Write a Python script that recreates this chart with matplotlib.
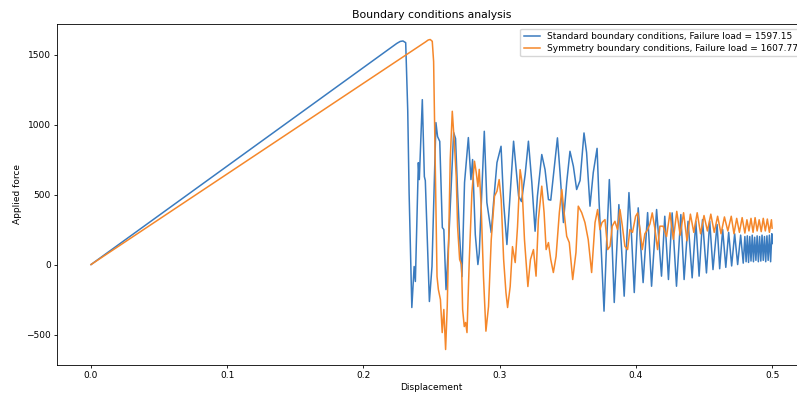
import matplotlib
matplotlib.use("Agg")
import matplotlib.pyplot as plt

# displacement / applied force
std_disp = [0.000, 0.2245, 0.2270, 0.229, 0.2310, 0.2325, 0.2335,
            0.2355, 0.2372, 0.2381, 0.2403, 0.2410, 0.2432, 0.2447, 0.2454, 0.2484, 0.2503,
            0.2532, 0.2544, 0.2560, 0.2579, 0.2590, 0.2606, 0.2625, 0.2662, 0.2676, 0.2691,
            0.2706, 0.2723, 0.2742, 0.2770, 0.2789, 0.2801, 0.2821, 0.2840, 0.2850, 0.2887,
            0.2906, 0.2938, 0.2955, 0.2980, 0.3010, 0.3029, 0.3053, 0.3073, 0.3102, 0.3139,
            0.3160, 0.3187, 0.3211, 0.3236, 0.3260, 0.3277, 0.3309, 0.3333, 0.3358, 0.3375,
            0.3424, 0.3443, 0.3468, 0.3492, 0.3516, 0.3541, 0.3565, 0.3590, 0.3619, 0.3638,
            0.3663, 0.3687, 0.3715, 0.3729, 0.3749, 0.3766, 0.3785, 0.3805, 0.3822, 0.3841,
            0.3859, 0.3875, 0.3895, 0.3914, 0.3949, 0.3968, 0.3988, 0.4017, 0.4053, 0.4086,
            0.4115, 0.4152, 0.4188, 0.4212, 0.4239, 0.4266, 0.4298, 0.4330, 0.4354, 0.4383,
            0.4413, 0.4440, 0.4464, 0.4489, 0.4518, 0.4542, 0.4566, 0.4596, 0.4615, 0.4637,
            0.4660, 0.4681, 0.4703, 0.4725, 0.4747, 0.4769, 0.4788, 0.4800, 0.4809, 0.4818,
            0.4827, 0.4836, 0.4845, 0.4854, 0.4863, 0.4872, 0.4881, 0.4890, 0.4899, 0.4908,
            0.4917, 0.4926, 0.4935, 0.4944, 0.4953, 0.4962, 0.4971, 0.4980, 0.4989, 0.4998,
            0.5000]
std_force = [0, 1580, 1594, 1597.15, 1585, 1100, 514,
             -307, -14, -121, 728, 607, 1178, 628, 600, -264, -14,
             1014, 914, 880, 264, 250, -179, 157, 943, 900, 514,
             200, -86, 586, 907, 607, 750, 214, 0, 80, 952,
             443, 228, 443, 728, 845, 443, 143, 443, 881, 488,
             450, 643, 881, 586, 238, 488, 786, 678, 464, 460,
             905, 657, 300, 586, 809, 702, 536, 600, 940, 800,
             417, 657, 830, 464, 36, -333, 157, 607, 228, -271,
             107, 428, 107, -226, 514, 202, -200, 405, -129, 371,
             -155, 393, -83, 345, -107, 369, -155, 357, -107, 309,
             -95, 309, -83, 321, -60, 309, -36, 286, -30, 250,
             -20, 230, -10, 220, 0, 210, 10, 200, 20, 205,
             15, 200, 25, 210, 20, 195, 30, 205, 20, 200,
             25, 210, 30, 200, 20, 205, 30, 210, 20, 220,
             150]

sym_disp = [0.000, 0.2455, 0.2475, 0.2490, 0.2505,
            0.2515, 0.2540, 0.2550, 0.2565, 0.2578, 0.2590, 0.2603, 0.2615, 0.2625, 0.2637,
            0.2652, 0.2667, 0.2681, 0.2691, 0.2706, 0.2720, 0.2728, 0.2740, 0.2750, 0.2760,
            0.2777, 0.2796, 0.2815, 0.2828, 0.2840, 0.2850, 0.2864, 0.2881, 0.2899, 0.2918,
            0.2938, 0.2962, 0.2980, 0.2996, 0.3011, 0.3029, 0.3046, 0.3058, 0.3077, 0.3094,
            0.3114, 0.3131, 0.3150, 0.3162, 0.3182, 0.3207, 0.3226, 0.3248, 0.3267, 0.3284,
            0.3309, 0.3326, 0.3341, 0.3358, 0.3375, 0.3394, 0.3414, 0.3438, 0.3456, 0.3473,
            0.3492, 0.3511, 0.3536, 0.3560, 0.3577, 0.3602, 0.3626, 0.3650, 0.3675, 0.3700,
            0.3719, 0.3736, 0.3751, 0.3773, 0.3793, 0.3810, 0.3826, 0.3846, 0.3865, 0.3883,
            0.3900, 0.3919, 0.3939, 0.3956, 0.3975, 0.3998, 0.4013, 0.4030, 0.4047, 0.4066,
            0.4086, 0.4103, 0.4120, 0.4139, 0.4159, 0.4176, 0.4200, 0.4225, 0.4250, 0.4275,
            0.4300, 0.4325, 0.4350, 0.4375, 0.4400, 0.4425, 0.4450, 0.4475, 0.4500, 0.4525,
            0.4550, 0.4575, 0.4600, 0.4625, 0.4650, 0.4675, 0.4700, 0.4720, 0.4740, 0.4760,
            0.4780, 0.4800, 0.4815, 0.4830, 0.4845, 0.4860, 0.4875, 0.4890, 0.4905, 0.4920,
            0.4935, 0.4950, 0.4965, 0.4980, 0.4995, 0.5000]
sym_force = [0, 1590, 1604, 1607.77, 1595,
             1450, -86, -179, -250, -486, -321, -607, -300, 157, 750,
             1095, 871, 628, 271, 36, 0, -321, -443, -414, -486,
             36, 514, 738, 657, 557, 680, 417, -86, -476, -300,
             178, 488, 524, 607, 464, 36, -200, -307, -157, 128,
             14, 271, 678, 600, 178, -157, 36, 107, -83, 321,
             560, 371, 107, 157, 36, -57, 59, 371, 536, 371,
             202, 157, -107, 86, 417, 371, 300, 178, -57, 300,
             393, 250, 300, 321, 107, 130, 274, 309, 250, 393,
             280, 131, 107, 250, 230, 345, 369, 250, 107, 220,
             250, 290, 369, 260, 107, 274, 274, 200, 370, 180,
             380, 210, 370, 170, 360, 230, 370, 220, 350, 240,
             360, 230, 345, 220, 340, 240, 345, 220, 330, 230,
             335, 225, 320, 240, 330, 230, 335, 240, 320, 235,
             330, 240, 325, 230, 320, 260]

std_label = "Standard boundary conditions, Failure load = 1597.15"
sym_label = "Symmetry boundary conditions, Failure load = 1607.77"

fs = 6.5
fig = plt.figure(figsize=(7.97, 3.94), dpi=100)
ax = fig.add_axes([0.0715, 0.0736, 0.94, 0.8655])

ax.plot(std_disp, std_force, color="#3a7bbf", lw=1.1, label=std_label)
ax.plot(sym_disp, sym_force, color="#f5872a", lw=1.1, label=sym_label)

ax.set_title("Boundary conditions analysis", fontsize=7.8, pad=4)
ax.set_xlabel("Displacement", fontsize=fs, labelpad=2)
ax.set_ylabel("Applied force", fontsize=fs, labelpad=3)
ax.tick_params(labelsize=fs, length=2.3, width=0.6, pad=2)
for s in ax.spines.values():
    s.set_linewidth(0.6)

ax.set_xticks([0.0, 0.1, 0.2, 0.3, 0.4, 0.5])
ax.set_yticks([-500, 0, 500, 1000, 1500])

ax.legend(loc="upper right", fontsize=fs, handlelength=1.8, borderpad=0.4, labelspacing=0.3)

fig.savefig("out.png", dpi=100)
